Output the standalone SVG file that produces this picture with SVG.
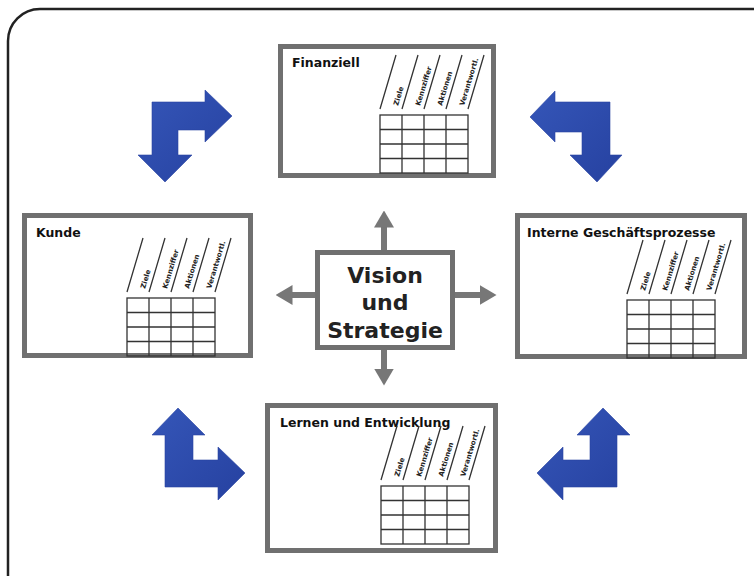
<svg xmlns="http://www.w3.org/2000/svg" width="754" height="576" viewBox="0 0 754 576">
<style>
.frame{fill:#fff;stroke:#222;stroke-width:2.5}
.box{fill:#fff;stroke:#707070;stroke-width:5}
.title{font-family:"DejaVu Sans",Verdana,sans-serif;font-weight:bold;font-size:12.5px;fill:#111}
.center{font-family:"DejaVu Sans",Verdana,sans-serif;font-weight:bold;font-size:22px;fill:#222;text-anchor:middle}
.grid{fill:none;stroke:#333;stroke-width:1.3}
.hdr{font-family:"DejaVu Sans",Verdana,sans-serif;font-weight:bold;font-size:7px;fill:#222}
.conn{stroke:#777;stroke-width:6;fill:none}
.blue{fill:url(#bg);stroke:#2a44a2;stroke-width:0.6}
</style>
<defs>
<linearGradient id="bg" x1="0" y1="0" x2="1" y2="1">
<stop offset="0" stop-color="#3556b8"/>
<stop offset="1" stop-color="#2641a0"/>
</linearGradient>
<marker id="ah" markerUnits="userSpaceOnUse" markerWidth="17" markerHeight="20" viewBox="0 0 17 20" refX="0.5" refY="10" orient="auto">
<path d="M0,0 L17,10 L0,20 z" fill="#777"/>
</marker>
</defs>
<rect class="frame" x="8" y="9" width="800" height="700" rx="32"/>

<g id="connectors">
<line class="conn" x1="384" y1="252" x2="384" y2="227" marker-end="url(#ah)"/>
<line class="conn" x1="384" y1="348" x2="384" y2="369" marker-end="url(#ah)"/>
<line class="conn" x1="317" y1="295" x2="292" y2="295" marker-end="url(#ah)"/>
<line class="conn" x1="453" y1="295" x2="480" y2="295" marker-end="url(#ah)"/>
<polygon class="blue" points="152,102 205,102 205,90 232,116 205,142 205,130 178,130 178,155 192,155 165,182 138,155 152,155"/>
<polygon class="blue" points="610,102 555,102 555,91 530,117 555,142 555,132 582,132 582,155 570,155 597,182 622,155 610,155"/>
<polygon class="blue" points="165,487 165,435 152,435 178,408 205,435 193,435 193,460 218,460 218,447 245,473 218,500 218,487"/>
<polygon class="blue" points="617,487 617,435 630,435 603,408 577,435 590,435 590,460 563,460 563,447 537,473 563,500 563,487"/>
</g>

<g id="center">
<rect class="box" x="317.5" y="252.5" width="135" height="95"/>
<text class="center" x="385" y="283">Vision</text>
<text class="center" x="385" y="310">und</text>
<text class="center" x="385" y="338">Strategie</text>
</g>

<g id="finanziell">
<rect class="box" x="280.5" y="46.5" width="213" height="129"/>
<text class="title" x="292" y="67">Finanziell</text>
<g transform="translate(380,115)">
<rect class="grid" x="0" y="0" width="88" height="58"/>
<path class="grid" d="M22,0V58M44,0V58M66,0V58M0,14.5H88M0,29H88M0,43.5H88M0,-6L16,-60M22,-6L38,-60M44,-6L60,-60M66,-6L82,-60M88,-6L104,-60"/>
<text class="hdr" transform="translate(18,-9) rotate(-73)">Ziele</text>
<text class="hdr" transform="translate(40,-9) rotate(-73)">Kennziffer</text>
<text class="hdr" transform="translate(62,-9) rotate(-73)">Aktionen</text>
<text class="hdr" transform="translate(84,-9) rotate(-73)">Verantwortl.</text>
</g>
</g>

<g id="kunde">
<rect class="box" x="24.5" y="215.5" width="226" height="140"/>
<text class="title" x="36" y="237">Kunde</text>
<g transform="translate(127,298)">
<rect class="grid" x="0" y="0" width="88" height="58"/>
<path class="grid" d="M22,0V58M44,0V58M66,0V58M0,14.5H88M0,29H88M0,43.5H88M0,-6L16,-60M22,-6L38,-60M44,-6L60,-60M66,-6L82,-60M88,-6L104,-60"/>
<text class="hdr" transform="translate(18,-9) rotate(-73)">Ziele</text>
<text class="hdr" transform="translate(40,-9) rotate(-73)">Kennziffer</text>
<text class="hdr" transform="translate(62,-9) rotate(-73)">Aktionen</text>
<text class="hdr" transform="translate(84,-9) rotate(-73)">Verantwortl.</text>
</g>
</g>

<g id="interne">
<rect class="box" x="517.5" y="215.5" width="227" height="141"/>
<text class="title" x="527" y="237">Interne Geschäftsprozesse</text>
<g transform="translate(627,300)">
<rect class="grid" x="0" y="0" width="88" height="58"/>
<path class="grid" d="M22,0V58M44,0V58M66,0V58M0,14.5H88M0,29H88M0,43.5H88M0,-6L16,-60M22,-6L38,-60M44,-6L60,-60M66,-6L82,-60M88,-6L104,-60"/>
<text class="hdr" transform="translate(18,-9) rotate(-73)">Ziele</text>
<text class="hdr" transform="translate(40,-9) rotate(-73)">Kennziffer</text>
<text class="hdr" transform="translate(62,-9) rotate(-73)">Aktionen</text>
<text class="hdr" transform="translate(84,-9) rotate(-73)">Verantwortl.</text>
</g>
</g>

<g id="lernen">
<rect class="box" x="267.5" y="405.5" width="228" height="145"/>
<text class="title" x="280" y="427">Lernen und Entwicklung</text>
<g transform="translate(381,486)">
<rect class="grid" x="0" y="0" width="88" height="58"/>
<path class="grid" d="M22,0V58M44,0V58M66,0V58M0,14.5H88M0,29H88M0,43.5H88M0,-6L16,-60M22,-6L38,-60M44,-6L60,-60M66,-6L82,-60M88,-6L104,-60"/>
<text class="hdr" transform="translate(18,-9) rotate(-73)">Ziele</text>
<text class="hdr" transform="translate(40,-9) rotate(-73)">Kennziffer</text>
<text class="hdr" transform="translate(62,-9) rotate(-73)">Aktionen</text>
<text class="hdr" transform="translate(84,-9) rotate(-73)">Verantwortl.</text>
</g>
</g>
</svg>
